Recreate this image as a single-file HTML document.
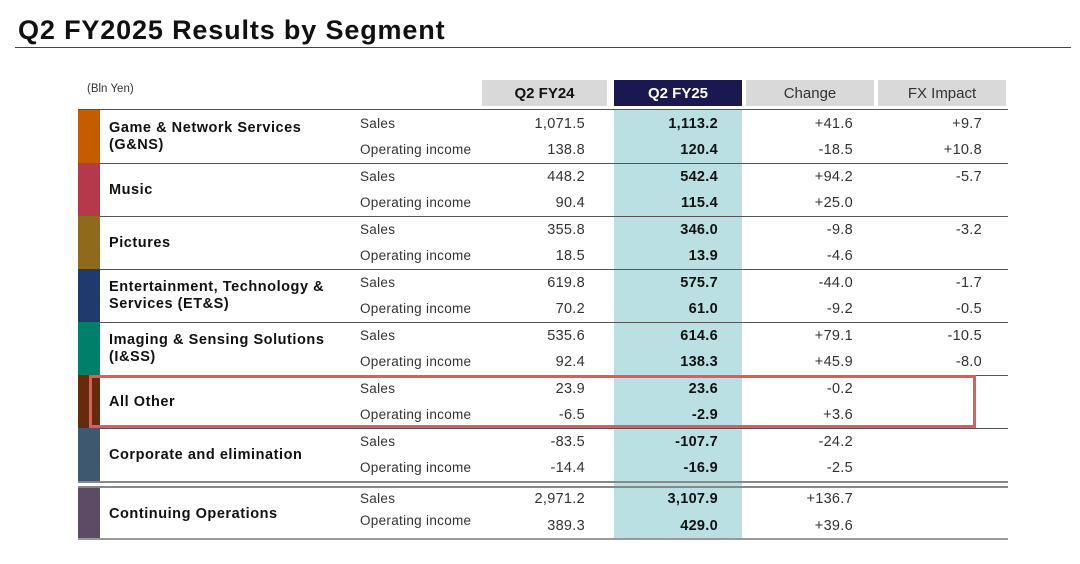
<!DOCTYPE html>
<html><head><meta charset="utf-8"><style>
body{margin:0;background:#fff;width:1080px;height:564px;overflow:hidden;position:relative;font-family:"Liberation Sans","DejaVu Sans",sans-serif;color:#222}
.a{position:absolute;white-space:nowrap}
.hd{position:absolute;top:80px;height:26px;line-height:27px;text-align:center;font-size:15px;background:#d9d9d9;color:#333}
.ln{position:absolute;left:78px;width:930px;height:1px;background:#555}
.seg{font-weight:bold;font-size:14.5px;color:#111;line-height:17px;letter-spacing:0.55px}
.sub{font-size:13.5px;color:#333;letter-spacing:0.3px}
.num{font-size:14.5px;color:#333;text-align:right;width:120px;letter-spacing:0.3px}
</style></head><body>
<div class="a" style="left:18px;top:15px;font-size:27px;font-weight:bold;color:#111;letter-spacing:0.85px">Q2 FY2025 Results by Segment</div>
<div class="a" style="left:15px;top:47px;width:1056px;height:1px;background:#444"></div>
<div class="a" style="left:87px;top:83px;font-size:11.5px;color:#333">(Bln Yen)</div>
<div class="hd" style="left:482px;width:125px;font-weight:bold;color:#111">Q2 FY24</div>
<div class="hd" style="left:614px;width:128px;font-weight:bold;background:#1a1850;color:#fff">Q2 FY25</div>
<div class="hd" style="left:746px;width:128px">Change</div>
<div class="hd" style="left:878px;width:128px">FX Impact</div>
<div class="a" style="left:614px;top:110px;width:128px;height:428px;background:#bae0e4"></div>
<div id="rows"></div>
<div class="a" style="left:89px;top:375px;width:881px;height:47px;border:3px solid #e85858"></div>
<script>
const segments=["Game & Network Services<br>(G&NS)","Music","Pictures","Entertainment, Technology &<br>Services (ET&S)","Imaging & Sensing Solutions<br>(I&SS)","All Other","Corporate and elimination","Continuing Operations"];
const segColors=["#c25e00","#b5394a","#8f6a1c","#1f3a6c","#007f6a","#662a0c","#3e5870","#5d4a65"];
const fy24=[["1,071.5","138.8"],["448.2","90.4"],["355.8","18.5"],["619.8","70.2"],["535.6","92.4"],["23.9","-6.5"],["-83.5","-14.4"],["2,971.2","389.3"]];
const fy25=[["1,113.2","120.4"],["542.4","115.4"],["346.0","13.9"],["575.7","61.0"],["614.6","138.3"],["23.6","-2.9"],["-107.7","-16.9"],["3,107.9","429.0"]];
const change=[["+41.6","-18.5"],["+94.2","+25.0"],["-9.8","-4.6"],["-44.0","-9.2"],["+79.1","+45.9"],["-0.2","+3.6"],["-24.2","-2.5"],["+136.7","+39.6"]];
const fx=[["+9.7","+10.8"],["-5.7",""],["-3.2",""],["-1.7","-0.5"],["-10.5","-8.0"],["",""],["",""],["",""]];
const subLabels=["Sales","Operating income"];
const R=document.getElementById('rows');
function add(cls,name,style,html){const d=document.createElement('div');d.className='a '+cls;


d.style.cssText=style;d.innerHTML=html||'';R.appendChild(d);return d;}
add('ln','table-top-line','top:109px;');
segments.forEach((s,i)=>{
  const top=i<7?110+i*53:487;
  const h=i<7?53:51;
  add('','segment-color-bar','left:78px;top:'+top+'px;width:22px;height:'+h+'px;background:'+segColors[i]);
  const two=s.indexOf('<br>')>=0;
  add('seg','segment-label','left:109px;top:'+(top+(two?10:19))+'px',s);
  const off=i<7?[6,32]:[4,26];
  const noff=i<7?[6,32]:[4,31];
  for(let k=0;k<2;k++){
    add('sub','row-label','left:360px;top:'+(top+off[k])+'px',subLabels[k]);
    add('num','fy24-value','left:465px;top:'+(top+noff[k])+'px',fy24[i][k]);
    add('num','fy25-value','left:598px;top:'+(top+noff[k])+'px;font-weight:bold;color:#111',fy25[i][k]);
    add('num','change-value','left:733px;top:'+(top+noff[k])+'px',change[i][k]);
    add('num','fx-value','left:862px;top:'+(top+noff[k])+'px',fx[i][k]);
  }
  if(i<6) add('ln','row-divider','top:'+(top+h)+'px;');
  if(i==6) add('ln','row-divider','top:'+(top+h)+'px;height:2px;background:#888');
  if(i==7) add('ln','table-bottom-line','top:'+(top+h)+'px;height:2px;background:#999');
});
add('ln','continuing-top-line','top:486px;height:2px;background:#888');
</script>
</body></html>
